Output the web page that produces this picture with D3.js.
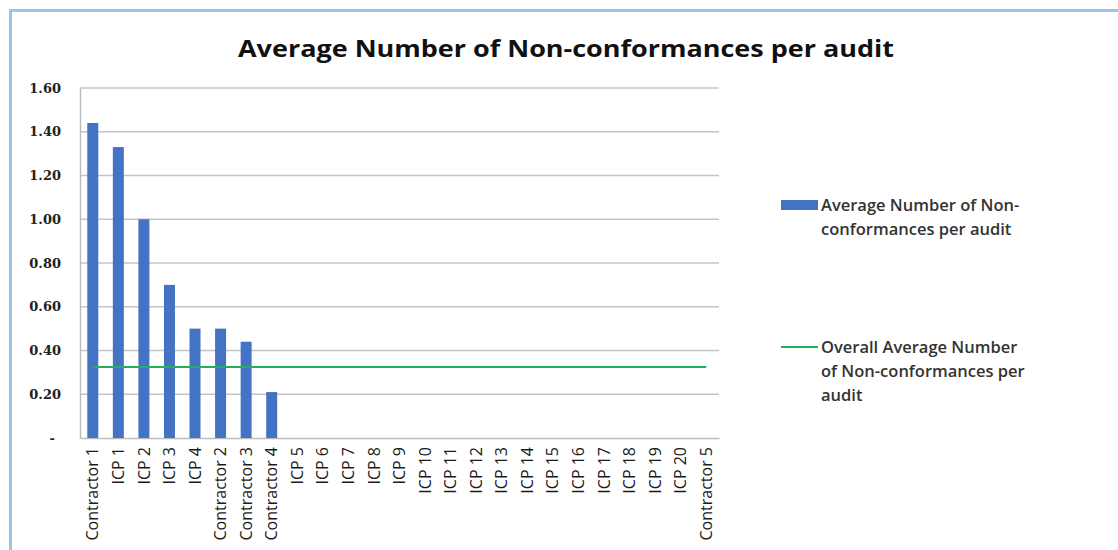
<!DOCTYPE html>
<html>
<head>
<meta charset="utf-8">
<script src="https://cdn.jsdelivr.net/npm/d3@7"></script>
<style>
  html, body { margin: 0; padding: 0; background: #fff; }
  svg { display: block; }
</style>
</head>
<body>
<svg id="chart" width="1118" height="550"></svg>
<script>
// Audit results per organisation
const categories = [
  "Contractor 1", "ICP 1", "ICP 2", "ICP 3", "ICP 4",
  "Contractor 2", "Contractor 3", "Contractor 4",
  "ICP 5", "ICP 6", "ICP 7", "ICP 8", "ICP 9", "ICP 10",
  "ICP 11", "ICP 12", "ICP 13", "ICP 14", "ICP 15", "ICP 16",
  "ICP 17", "ICP 18", "ICP 19", "ICP 20", "Contractor 5"
];
const avgNonConformances = [
  1.44, 1.33, 1.00, 0.70, 0.50, 0.50, 0.44, 0.21,
  0, 0, 0, 0, 0, 0, 0, 0, 0, 0, 0, 0, 0, 0, 0, 0, 0
];
const overallAverage = 0.325;
const yTicks = [0, 0.2, 0.4, 0.6, 0.8, 1.0, 1.2, 1.4, 1.6];
const seriesNames = [
  ["Average Number of Non-", "conformances per audit"],
  ["Overall Average Number", "of Non-conformances per", "audit"]
];
const chartTitle = "Average Number of Non-conformances per audit";

const svg = d3.select("#chart");

// outer frame
svg.append("rect").attr("x", 10.5).attr("y", 10.5).attr("width", 1120).attr("height", 560)
  .attr("fill", "#fff").attr("stroke", "#9cc4e4").attr("stroke-width", 3);

const plot = { left: 80, right: 719, top: 88, bottom: 438 };

const x = d3.scaleBand().domain(categories).range([plot.left, plot.right]).paddingInner(0.57).paddingOuter(0.285);
const y = d3.scaleLinear().domain([0, 1.6]).range([plot.bottom, plot.top]);

// gridlines
svg.append("g").selectAll("line").data(yTicks.filter(d => d > 0)).join("line")
  .attr("x1", plot.left).attr("x2", plot.right)
  .attr("y1", d => y(d)).attr("y2", d => y(d))
  .attr("stroke", "#c4c4c4").attr("stroke-width", 1.5);

// y axis
const yAxis = d3.axisLeft(y).tickValues(yTicks).tickSize(0).tickPadding(19)
  .tickFormat(d => d === 0 ? "-" : d3.format(".2f")(d));
const gy = svg.append("g").attr("transform", `translate(${plot.left},0)`).call(yAxis);
gy.select(".domain").attr("stroke", "#bdbdbd").attr("stroke-width", 1.5);
gy.selectAll("text").attr("font-family", "'DejaVu Serif', serif").attr("font-weight", "bold")
  .attr("font-size", 13).attr("fill", "#222");
gy.selectAll("text").filter(d => d === 0).attr("dx", -6);

// x axis
const xAxis = d3.axisBottom(x).tickSize(0).tickPadding(6);
const gx = svg.append("g").attr("transform", `translate(0,${plot.bottom})`).call(xAxis);
gx.select(".domain").attr("stroke", "#bdbdbd").attr("stroke-width", 1.5);
gx.selectAll("text")
  .attr("font-family", "'Open Sans', sans-serif").attr("font-size", 16).attr("font-weight", 500)
  .attr("fill", "#1a1a1a")
  .attr("transform", "rotate(-90)").attr("text-anchor", "end")
  .attr("x", -9).attr("y", 0).attr("dy", "0.35em");

// bars
svg.append("g").selectAll("rect").data(categories).join("rect")
  .attr("x", d => x(d)).attr("width", x.bandwidth())
  .attr("y", (d, i) => y(avgNonConformances[i]))
  .attr("height", (d, i) => plot.bottom - y(avgNonConformances[i]))
  .attr("fill", "#4472c4");

// overall average line
const first = categories[0], last = categories[categories.length - 1];
svg.append("line")
  .attr("x1", x(first) + x.bandwidth() / 2).attr("x2", x(last) + x.bandwidth() / 2)
  .attr("y1", y(overallAverage)).attr("y2", y(overallAverage))
  .attr("stroke", "#22b060").attr("stroke-width", 2);

// title
svg.append("text").attr("x", 566).attr("y", 57).attr("text-anchor", "middle")
  .attr("font-family", "'Open Sans', sans-serif").attr("font-weight", "bold")
  .attr("font-size", 24).attr("fill", "#111")
  .attr("textLength", 656).attr("lengthAdjust", "spacingAndGlyphs")
  .text(chartTitle);

// legend
const legend = svg.append("g").attr("font-family", "'Open Sans', sans-serif")
  .attr("font-size", 16.5).attr("font-weight", "600").attr("fill", "#333");
legend.append("rect").attr("x", 781).attr("y", 200).attr("width", 37).attr("height", 10).attr("fill", "#4472c4");
seriesNames[0].forEach((t, i) => legend.append("text").attr("x", 821).attr("y", 211 + i * 24).text(t));
legend.append("line").attr("x1", 781).attr("x2", 818).attr("y1", 347).attr("y2", 347)
  .attr("stroke", "#22b060").attr("stroke-width", 2);
seriesNames[1].forEach((t, i) => legend.append("text").attr("x", 821).attr("y", 353 + i * 24).text(t));
</script>
</body>
</html>
